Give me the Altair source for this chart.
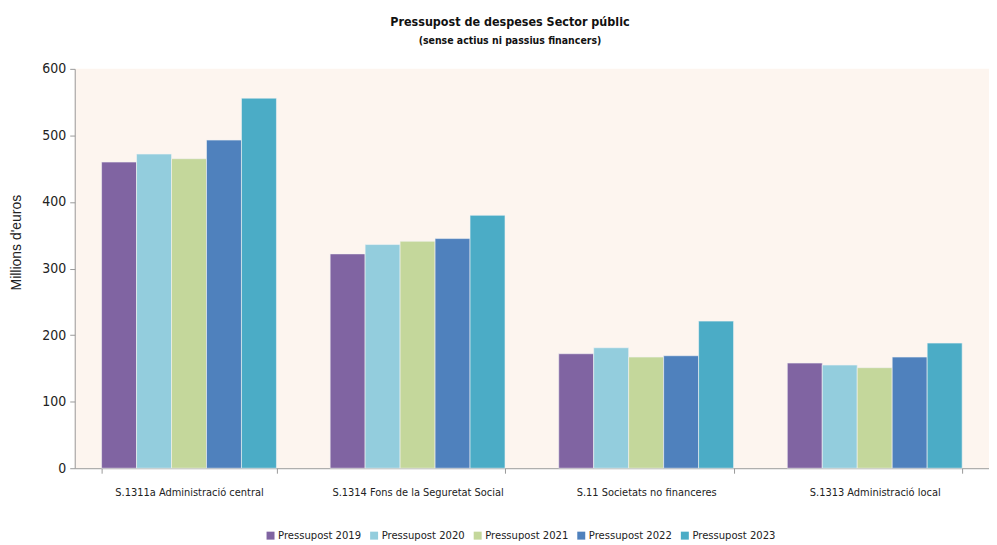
import altair as alt
import pandas as pd

categories = ["S.1311a Administració central", "S.1314 Fons de la Seguretat Social",
              "S.11 Societats no financeres", "S.1313 Administració local"]
series = ["Pressupost 2019", "Pressupost 2020", "Pressupost 2021", "Pressupost 2022", "Pressupost 2023"]
v2019 = [460, 322, 172, 158]
v2020 = [472, 336, 181, 155]
v2021 = [465, 341, 167, 151]
v2022 = [493, 345, 169, 167]
v2023 = [556, 380, 221, 188]
colors = ["#8064A2", "#93CDDD", "#C4D79B", "#4F81BD", "#4BACC6"]

rows = []
for s, vals in zip(series, [v2019, v2020, v2021, v2022, v2023]):
    for c, v in zip(categories, vals):
        rows.append({"cat": c, "serie": s, "val": v})
df = pd.DataFrame(rows)

NARROW = "DejaVu Sans Condensed"

chart = alt.Chart(df).mark_bar(stroke="#f4f4f4", strokeWidth=0.6).encode(
    x=alt.X("cat:N", sort=categories, title=None,
            scale=alt.Scale(paddingInner=0.235, paddingOuter=0.1175),
            axis=alt.Axis(labelAngle=0, tickBand="extent", labelFont=NARROW, labelFontSize=11,
                          labelColor="#222", domainColor="#999", tickColor="#999",
                          tickSize=5, labelPadding=13, labelLimit=300)),
    xOffset=alt.XOffset("serie:N", sort=series),
    y=alt.Y("val:Q", title="Millions d'euros",
            scale=alt.Scale(domain=[0, 600], nice=False),
            axis=alt.Axis(values=[0, 100, 200, 300, 400, 500, 600], grid=False,
                          labelFont=NARROW, labelFontSize=14, labelColor="#222",
                          domainColor="#999", tickColor="#999", tickSize=5, labelPadding=4,
                          titleFont="Liberation Sans", titleFontSize=14, titleFontWeight="normal",
                          titleColor="#222", titleAngle=270, titleAlign="center",
                          titleBaseline="middle", titleX=-58, titleY=174)),
    color=alt.Color("serie:N", sort=series, scale=alt.Scale(domain=series, range=colors),
                    legend=alt.Legend(title=None, orient="none", direction="horizontal",
                                      legendX=191, legendY=463, columns=5,
                                      symbolType="square", symbolSize=64, symbolStrokeWidth=0,
                                      labelFont=NARROW, labelFontSize=11.2, labelColor="#222",
                                      columnPadding=7, labelOffset=2)),
).properties(
    width=918, height=401,
    title=alt.Title("Pressupost de despeses Sector públic",
                    subtitle="(sense actius ni passius financers)",
                    font=NARROW, fontSize=12.5, fontWeight="bold", color="#111",
                    subtitleFont=NARROW, subtitleFontSize=10.5, subtitleFontWeight="bold",
                    subtitleColor="#111", anchor="middle", dx=-22, offset=15, subtitlePadding=8),
    autosize=alt.AutoSizeParams(type="none"),
    padding={"left": 67, "top": 60, "right": 0, "bottom": 76},
).configure_view(fill="#FDF5EF", stroke=None)

chart.save("out.html", embed_options={"renderer": "svg", "actions": False})
